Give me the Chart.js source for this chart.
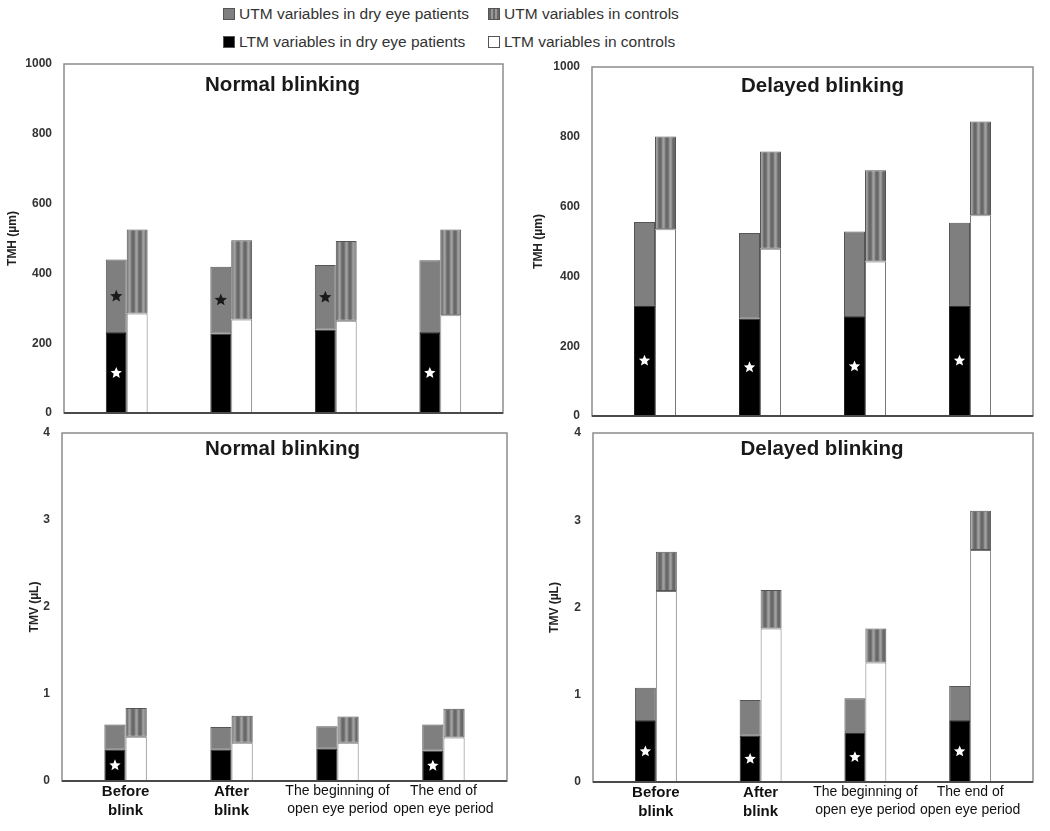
<!DOCTYPE html>
<html>
<head>
<meta charset="utf-8">
<title>TMH and TMV</title>
<script src="https://cdn.jsdelivr.net/npm/chart.js@4.4.0/dist/chart.umd.min.js"></script>
<style>
body { margin: 0; background: #fff; font-family: "Liberation Sans", Arial, sans-serif; }
#fig { position: relative; width: 1050px; height: 831px; overflow: hidden; }
#fig canvas { position: absolute; }
.leg { position: absolute; font-size: 15.5px; color: #333; line-height: 18px; white-space: nowrap; }
.leg i { display: inline-block; width: 12px; height: 12px; border: 1px solid #555; box-sizing: border-box; vertical-align: -1px; margin-right: 4px; }
</style>
</head>
<body>
<div id="fig">
  <div id="legend"></div>
  <canvas id="tmhNormal" width="520" height="393" style="left:0;top:40px"></canvas>
  <canvas id="tmhDelayed" width="530" height="396" style="left:520px;top:40px"></canvas>
  <canvas id="tmvNormal" width="520" height="421" style="left:0;top:410px"></canvas>
  <canvas id="tmvDelayed" width="530" height="421" style="left:520px;top:410px"></canvas>
</div>
<script>
// categories
const groups = [["Before", "blink"], ["After", "blink"], ["The beginning of", "open eye period"], ["The end of", "open eye period"]];

// series names
const seriesNames = ["UTM variables in dry eye patients", "UTM variables in controls", "LTM variables in dry eye patients", "LTM variables in controls"];

// TMH (um), normal blinking
const tmhNormalDryLTM = [229, 228, 239, 229];
const tmhNormalDryUTM = [211, 191, 185, 209];
const tmhNormalCtrlLTM = [285, 268, 264, 280];
const tmhNormalCtrlUTM = [241, 227, 229, 246];

// TMH (um), delayed blinking
const tmhDelayedDryLTM = [317, 279, 284, 317];
const tmhDelayedDryUTM = [239, 245, 245, 237];
const tmhDelayedCtrlLTM = [535, 479, 443, 575];
const tmhDelayedCtrlUTM = [266, 279, 261, 269];

// TMV (uL), normal blinking
const tmvNormalDryLTM = [0.36, 0.36, 0.37, 0.35];
const tmvNormalDryUTM = [0.29, 0.26, 0.26, 0.30];
const tmvNormalCtrlLTM = [0.51, 0.44, 0.44, 0.50];
const tmvNormalCtrlUTM = [0.33, 0.31, 0.30, 0.33];

// TMV (uL), delayed blinking
const tmvDelayedDryLTM = [0.70, 0.53, 0.57, 0.70];
const tmvDelayedDryUTM = [0.38, 0.41, 0.39, 0.40];
const tmvDelayedCtrlLTM = [2.19, 1.76, 1.37, 2.66];
const tmvDelayedCtrlUTM = [0.45, 0.44, 0.39, 0.45];

// significance marks (1 = star)
const tmhNormalStarsLTM = [1, 0, 0, 1];
const tmhNormalStarsUTM = [1, 1, 1, 0];
const tmhDelayedStarsLTM = [1, 1, 1, 1];
const tmvNormalStarsLTM = [1, 0, 0, 1];
const tmvDelayedStarsLTM = [1, 1, 1, 1];

const tmhTicks = [0, 200, 400, 600, 800, 1000];
const tmvTicks = [0, 1, 2, 3, 4];

Chart.defaults.font.family = '"Liberation Sans", Arial, sans-serif';
Chart.defaults.animation = false;

// striped fill for the control UTM bars
function stripes() {
    let c = document.createElement('canvas');
    c.width = 7; c.height = 4;
    let g = c.getContext('2d');
    let cols = ['#686868', '#767676', '#929292', '#a0a0a0', '#929292', '#767676', '#686868'];
    cols.forEach((col, i) => { g.fillStyle = col; g.fillRect(i, 0, 1, 4); });
    return g.createPattern(c, 'repeat');
}
const stripeFill = stripes();

function drawStar(ctx, cx, cy, r) {
    ctx.beginPath();
    for (let k = 0; k < 10; k++) {
        let rr = k % 2 ? r * 0.45 : r;
        let a = -Math.PI / 2 + k * Math.PI / 5;
        ctx.lineTo(cx + rr * Math.cos(a), cy + rr * Math.sin(a));
    }
    ctx.closePath();
    ctx.fill();
}

const panelPlugin = {
    id: 'panel',
    afterDatasetsDraw(chart, args, opts) {
        let ctx = chart.ctx;
        let a = chart.chartArea;
        ctx.save();
        // box round the plot
        ctx.strokeStyle = '#8c8c8c';
        ctx.lineWidth = 1.5;
        ctx.strokeRect(a.left, a.top, a.right - a.left, a.bottom - a.top);
        ctx.strokeStyle = '#4a4a4a';
        ctx.lineWidth = 2;
        ctx.beginPath();
        ctx.moveTo(a.left, a.bottom);
        ctx.lineTo(a.right, a.bottom);
        ctx.stroke();
        // stars
        (opts.stars || []).forEach(s => {
            let meta = chart.getDatasetMeta(s.ds);
            ctx.fillStyle = s.color;
            s.flags.forEach((f, i) => {
                if (!f) return;
                let el = meta.data[i];
                drawStar(ctx, el.x, (el.y + el.base) / 2, s.r);
            });
        });
        // title inside the plot
        ctx.fillStyle = '#1a1a1a';
        ctx.font = 'bold 20.5px "Liberation Sans", Arial, sans-serif';
        ctx.textAlign = 'center';
        ctx.textBaseline = 'middle';
        ctx.fillText(opts.title, (a.left + a.right) / 2 + opts.dx, a.top + opts.dy);
        ctx.restore();
    }
};

function makePanel(id, p) {
    let ctx = document.getElementById(id).getContext('2d');
    let pts = arr => arr.map((v, i) => ({x: i, y: v}));
    return new Chart(ctx, {
        type: 'bar',
        data: {
            datasets: [
                {label: seriesNames[2], data: pts(p.dryLTM), stack: 'dry', backgroundColor: '#000', borderColor: '#222', borderWidth: 1, borderSkipped: false},
                {label: seriesNames[0], data: pts(p.dryUTM), stack: 'dry', backgroundColor: '#7f7f7f', borderColor: '#555', borderWidth: 1, borderSkipped: false},
                {label: seriesNames[3], data: pts(p.ctrlLTM), stack: 'ctrl', backgroundColor: '#fff', borderColor: '#777', borderWidth: 1, borderSkipped: false},
                {label: seriesNames[1], data: pts(p.ctrlUTM), stack: 'ctrl', backgroundColor: stripeFill, borderColor: '#555', borderWidth: 1, borderSkipped: false}
            ]
        },
        options: {
            responsive: false,
            categoryPercentage: 0.4,
            barPercentage: 1.0,
            layout: {padding: p.pad},
            scales: {
                x: {
                    type: 'linear', stacked: true, offset: false, min: -0.6, max: 3.6,
                    afterBuildTicks: s => { s.ticks = groups.map((g, i) => ({value: i})); },
                    afterFit: s => { s.height = p.xHeight; },
                    grid: {display: false, drawTicks: false},
                    border: {display: false},
                    ticks: {
                        display: p.showLabels, autoSkip: false, maxRotation: 0, padding: 1, color: '#111',
                        font: c => c.index < 2 ? {size: 15, weight: 'bold', lineHeight: 1.3} : {size: 14, weight: 'normal', lineHeight: 1.3},
                        callback: v => groups[v]
                    }
                },
                y: {
                    stacked: true, min: p.ticks[0], max: p.ticks[p.ticks.length - 1],
                    afterBuildTicks: s => { s.ticks = p.ticks.map(v => ({value: v})); },
                    afterFit: s => { s.width = p.yWidth; },
                    grid: {display: false, drawTicks: false},
                    border: {display: false},
                    ticks: {padding: 12, color: '#333', font: {size: 12, weight: 'bold'}, callback: v => String(v)},
                    title: {display: true, text: p.yTitle, color: '#222', font: {size: 12, weight: 'bold'}, padding: {top: 4, bottom: 4}}
                }
            },
            plugins: {
                legend: {display: false},
                tooltip: {enabled: false},
                panel: {title: p.title, dx: p.dx, dy: p.dy, stars: p.stars}
            }
        },
        plugins: [panelPlugin]
    });
}

makePanel('tmhNormal', {
    dryLTM: tmhNormalDryLTM, dryUTM: tmhNormalDryUTM, ctrlLTM: tmhNormalCtrlLTM, ctrlUTM: tmhNormalCtrlUTM,
    ticks: tmhTicks, yTitle: 'TMH (µm)', title: 'Normal blinking', dx: -1, dy: 21,
    pad: {left: 1, top: 24, right: 17, bottom: 0}, yWidth: 63, xHeight: 20, showLabels: false,
    stars: [{ds: 0, flags: tmhNormalStarsLTM, color: '#fff', r: 6}, {ds: 1, flags: tmhNormalStarsUTM, color: '#1a1a1a', r: 6.5}]
});

makePanel('tmhDelayed', {
    dryLTM: tmhDelayedDryLTM, dryUTM: tmhDelayedDryUTM, ctrlLTM: tmhDelayedCtrlLTM, ctrlUTM: tmhDelayedCtrlUTM,
    ticks: tmhTicks, yTitle: 'TMH (µm)', title: 'Delayed blinking', dx: 10, dy: 19,
    pad: {left: 7, top: 27, right: 17, bottom: 0}, yWidth: 65, xHeight: 20, showLabels: false,
    stars: [{ds: 0, flags: tmhDelayedStarsLTM, color: '#fff', r: 6}]
});

makePanel('tmvNormal', {
    dryLTM: tmvNormalDryLTM, dryUTM: tmvNormalDryUTM, ctrlLTM: tmvNormalCtrlLTM, ctrlUTM: tmvNormalCtrlUTM,
    ticks: tmvTicks, yTitle: 'TMV (µL)', title: 'Normal blinking', dx: -2, dy: 16,
    pad: {left: 23, top: 23, right: 13, bottom: 0}, yWidth: 39, xHeight: 50, showLabels: true,
    stars: [{ds: 0, flags: tmvNormalStarsLTM, color: '#fff', r: 6}]
});

makePanel('tmvDelayed', {
    dryLTM: tmvDelayedDryLTM, dryUTM: tmvDelayedDryUTM, ctrlLTM: tmvDelayedCtrlLTM, ctrlUTM: tmvDelayedCtrlUTM,
    ticks: tmvTicks, yTitle: 'TMV (µL)', title: 'Delayed blinking', dx: 9, dy: 16,
    pad: {left: 23, top: 23, right: 17, bottom: 0}, yWidth: 50, xHeight: 49, showLabels: true,
    stars: [{ds: 0, flags: tmvDelayedStarsLTM, color: '#fff', r: 6}]
});

// legend, two rows by two columns
const legendBoxes = [
    'background:#7f7f7f',
    'background:repeating-linear-gradient(90deg,#686868 0 2px,#9a9a9a 2px 4px)',
    'background:#000',
    'background:#fff'
];
const legendPos = [[223, 5], [488, 5], [223, 33], [488, 33]];
let legendHtml = '';
seriesNames.forEach((name, i) => {
    legendHtml += '<div class="leg" style="left:' + legendPos[i][0] + 'px;top:' + legendPos[i][1] + 'px"><i style="' + legendBoxes[i] + '"></i>' + name + '</div>';
});
document.getElementById('legend').innerHTML = legendHtml;
</script>
</body>
</html>
